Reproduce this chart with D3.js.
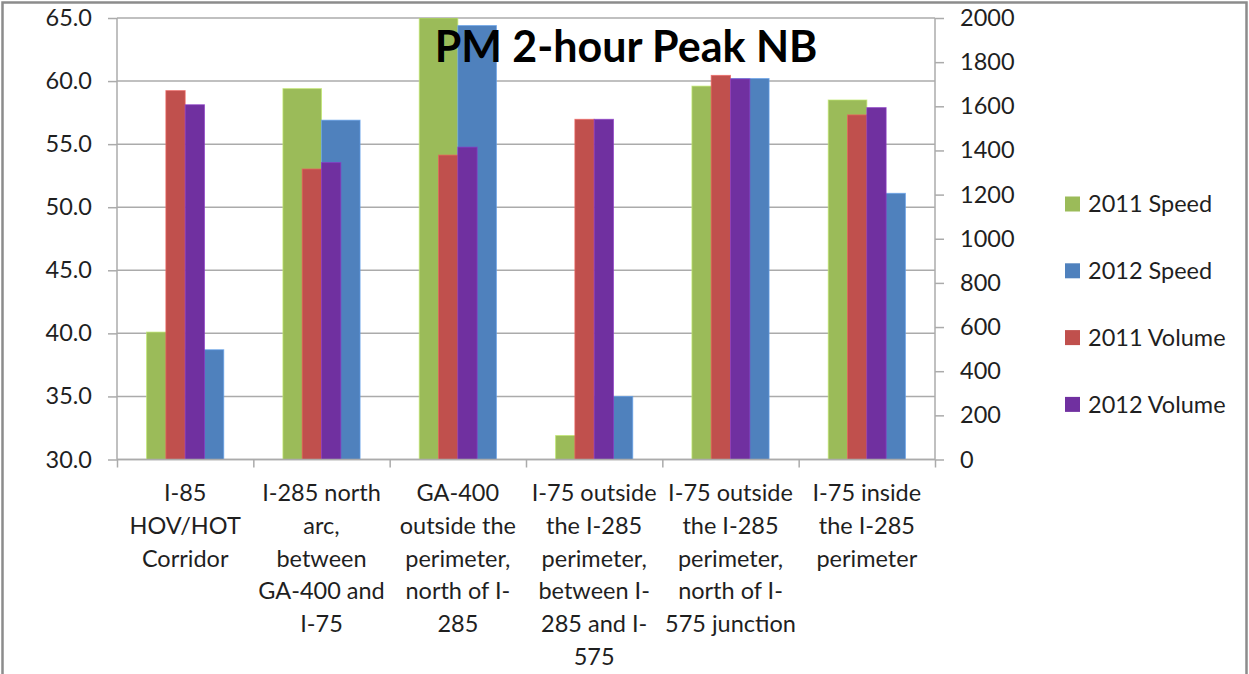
<!DOCTYPE html>
<html>
<head>
<meta charset="utf-8">
<script src="https://cdn.jsdelivr.net/npm/d3@7"></script>
<style>
  html, body { margin: 0; padding: 0; background: #fff; }
  svg { display: block; }
  text { font-family: Lato, "Open Sans", sans-serif; }
</style>
</head>
<body>
<svg id="chart" width="1249" height="674"></svg>
<script>
// Corridor categories (each entry is the wrapped label, one string per line)
const categories = [
  ["I-85", "HOV/HOT", "Corridor"],
  ["I-285 north", "arc,", "between", "GA-400 and", "I-75"],
  ["GA-400", "outside the", "perimeter,", "north of I-", "285"],
  ["I-75 outside", "the I-285", "perimeter,", "between I-", "285 and I-", "575"],
  ["I-75 outside", "the I-285", "perimeter,", "north of I-", "575 junction"],
  ["I-75 inside", "the I-285", "perimeter"]
];

// Average speeds (mph), left axis
const speed2011 = [40.1, 59.4, 65.0, 31.9, 59.6, 58.5];
const speed2012 = [38.7, 56.9, 64.4, 35.0, 60.2, 51.1];

// Volumes, right axis
const volume2011 = [1671, 1316, 1379, 1541, 1740, 1561];
const volume2012 = [1607, 1345, 1415, 1541, 1724, 1594];

// Axis ticks
const speedTicks = [30, 35, 40, 45, 50, 55, 60, 65];
const volumeTicks = [0, 200, 400, 600, 800, 1000, 1200, 1400, 1600, 1800, 2000];

const seriesNames = ["2011 Speed", "2012 Speed", "2011 Volume", "2012 Volume"];
const colors = {
  "2011 Speed": "#9BBB59",
  "2012 Speed": "#4F81BD",
  "2011 Volume": "#C0504D",
  "2012 Volume": "#7030A0"
};

const svg = d3.select("#chart");
const W = 1249, H = 674;
const plot = { left: 117, right: 935, top: 18, bottom: 459.5 };
const textColor = "#1f1f1f";

// chart frame
svg.append("path")
  .attr("d", `M2.5,${H} V2.5 H1246.5 V${H}`)
  .attr("fill", "none")
  .attr("stroke", "#8c8c8c")
  .attr("stroke-width", 2.5);

const x = d3.scaleBand()
  .domain(d3.range(categories.length))
  .range([plot.left, plot.right])
  .padding(0);

const yL = d3.scaleLinear().domain([30, 65]).range([plot.bottom, plot.top]);
const yR = d3.scaleLinear().domain([0, 2000]).range([plot.bottom, plot.top]);

const gridColor = "#ababab";

// horizontal gridlines
svg.append("g")
  .selectAll("line")
  .data(speedTicks)
  .join("line")
  .attr("x1", plot.left).attr("x2", plot.right)
  .attr("y1", d => yL(d)).attr("y2", d => yL(d))
  .attr("stroke", gridColor).attr("stroke-width", 1.5);

// bars
const bw = x.bandwidth() * 0.283;   // primary (speed) bar width
const sw = bw / 2;                   // secondary (volume) bar width
svg.append("clipPath").attr("id", "plotclip")
  .append("rect")
  .attr("x", plot.left).attr("y", plot.top)
  .attr("width", plot.right - plot.left).attr("height", plot.bottom - plot.top);

const bars = svg.append("g").attr("clip-path", "url(#plotclip)");

function drawBars(values, scale, base, offset, width, color) {
  bars.append("g")
    .selectAll("rect")
    .data(values)
    .join("rect")
    .attr("x", (d, i) => x(i) + x.bandwidth() / 2 + offset)
    .attr("y", d => scale(d))
    .attr("width", width)
    .attr("height", d => scale(base) - scale(d))
    .attr("fill", color)
    .attr("stroke", d3.color(color).brighter(0.6))
    .attr("stroke-opacity", 0.7)
    .attr("stroke-width", 1);
}

drawBars(speed2011, yL, 30, -bw, bw, colors["2011 Speed"]);
drawBars(speed2012, yL, 30, 0, bw, colors["2012 Speed"]);
drawBars(volume2011, yR, 0, -sw, sw, colors["2011 Volume"]);
drawBars(volume2012, yR, 0, 0, sw, colors["2012 Volume"]);

// left axis
const leftAxis = svg.append("g")
  .attr("transform", `translate(${plot.left},0)`)
  .call(d3.axisLeft(yL).tickValues(speedTicks).tickFormat(d3.format(".1f")).tickSize(9).tickPadding(16));
// right axis
const rightAxis = svg.append("g")
  .attr("transform", `translate(${plot.right},0)`)
  .call(d3.axisRight(yR).tickValues(volumeTicks).tickFormat(d3.format("d")).tickSize(9).tickPadding(16));
// category axis
const bottomAxis = svg.append("g")
  .attr("transform", `translate(0,${plot.bottom})`)
  .call(d3.axisBottom(d3.scaleLinear().domain([0, categories.length]).range([plot.left, plot.right]))
    .tickValues(d3.range(categories.length + 1)).tickSize(8).tickFormat(""));

[leftAxis, rightAxis, bottomAxis].forEach(a => {
  a.select(".domain").attr("stroke", gridColor).attr("stroke-width", 1.5);
  a.selectAll(".tick line").attr("stroke", gridColor).attr("stroke-width", 1.5);
  a.selectAll(".tick text")
    .attr("fill", textColor)
    .style("font-size", "23.5px")
    .style("font-family", "Lato, sans-serif");
});
bottomAxis.select(".domain").attr("d", `M${plot.left},0H${plot.right}`);
leftAxis.select(".domain").attr("d", `M0,${plot.top}V${plot.bottom}`);
rightAxis.select(".domain").attr("d", `M0,${plot.top}V${plot.bottom}`);

// category labels
const catG = svg.append("g");
categories.forEach((lines, i) => {
  const t = catG.append("text")
    .attr("x", x(i) + x.bandwidth() / 2)
    .attr("y", 501)
    .attr("text-anchor", "middle")
    .attr("fill", textColor)
    .style("font-size", "23.5px");
  lines.forEach((ln, j) => {
    t.append("tspan")
      .attr("x", x(i) + x.bandwidth() / 2)
      .attr("dy", j === 0 ? 0 : 32.8)
      .text(ln);
  });
});

// title
svg.append("text")
  .attr("x", 626)
  .attr("y", 62)
  .attr("text-anchor", "middle")
  .attr("fill", "#000")
  .style("font-size", "43px")
  .style("font-weight", "bold")
  .text("PM 2-hour Peak NB");

// legend
const legend = svg.append("g");
seriesNames.forEach((name, i) => {
  const cy = 204 + i * 66.8;
  legend.append("rect")
    .attr("x", 1065).attr("y", cy - 7.5)
    .attr("width", 15).attr("height", 15)
    .attr("fill", colors[name]);
  legend.append("text")
    .attr("x", 1088).attr("y", cy)
    .attr("dy", "0.36em")
    .attr("fill", textColor)
    .style("font-size", "23.5px")
    .text(name);
});
</script>
</body>
</html>
